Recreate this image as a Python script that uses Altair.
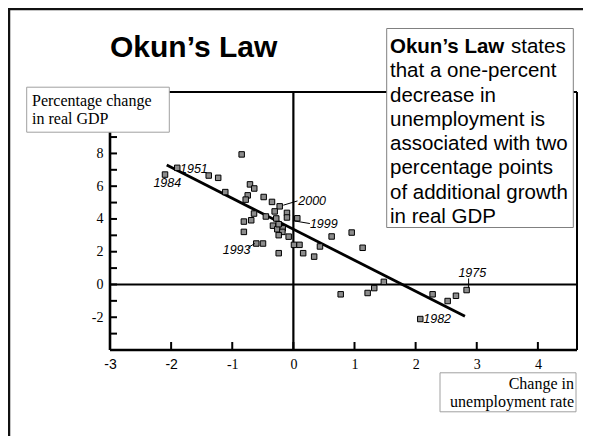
import altair as alt
import pandas as pd

# ---- data ----
unemp_change = [-2.10, -1.90, -1.385, -1.23, -1.114, -0.846, -0.71, -0.64, -0.747, -0.78,
                -0.486, -0.35, -0.224, -0.306, -0.105, -0.105, 0.064, -0.644, -0.81, -0.69,
                -0.45, -0.28, -0.334, -0.263, -0.175, -0.24, -0.18, -0.24, -0.81, -0.077,
                -0.607, -0.497, -0.24, 0.01, 0.10, 0.16, 0.34, 0.435, 0.626, 0.954,
                1.133, 0.774, 1.215, 1.323, 1.48, 2.278, 2.524, 2.66, 2.834, 2.076]
gdp_change = [6.71, 7.12, 6.65, 6.51, 5.64, 7.94, 6.11, 5.86, 5.44, 5.18,
              5.34, 5.04, 4.77, 4.46, 4.37, 4.09, 4.04, 4.33, 3.84, 3.92,
              4.15, 4.03, 3.59, 3.37, 3.43, 3.68, 3.21, 3.01, 3.21, 2.92,
              2.50, 2.50, 1.91, 2.42, 2.42, 1.91, 1.70, 2.32, 2.93, 3.17,
              2.24, -0.60, -0.52, -0.22, 0.16, -0.60, -1.01, -0.69, -0.34, -2.11]

fit_x = [-2.072, 2.807]
fit_y = [7.29, -1.94]

year_labels = ["1951", "1984", "2000", "1999", "1993", "1975", "1982"]
year_label_x = [-1.855, -2.29, 0.08, 0.27, -1.156, 2.70, 2.125]
year_label_y = [6.83, 5.97, 4.84, 3.45, 1.85, 0.47, -2.35]

leader_x1 = [-0.165, 0.015, -0.74, 2.867]
leader_y1 = [4.84, 3.88, 2.26, 0.37]
leader_x2 = [0.067, 0.27, -0.63, 2.867]
leader_y2 = [5.10, 3.72, 2.50, -0.22]

x_label_values = [-3, -2, -1, 0, 1, 2, 3, 4]
x_tick_values = [-2, -1, 0, 1, 2, 3, 4]
y_label_values = [-2, 0, 2, 4, 6, 8]
y_tick_values = list(range(-3, 12))

title_text = "Okun’s Law"
box_bold = "Okun’s Law"
box_first_rest = "states"
box_lines = ["that a one-percent", "decrease in", "unemployment is",
             "associated with two", "percentage points", "of additional growth",
             "in real GDP"]
y_title_lines = ["Percentage change", "in real GDP"]
x_title_lines = ["Change in", "unemployment rate"]

# ---- layout ----
W, H = 467, 258
SANS = "Liberation Sans"
SERIF = "Liberation Serif"

xs = alt.Scale(domain=[-3, 4.64], nice=False, zero=False)
ys = alt.Scale(domain=[-4, 11.75], nice=False, zero=False)

xax = alt.Axis(
    values=x_label_values, title=None, grid=False, domain=False, ticks=False,
    labelExpr="'' + datum.value",
    labelFont={"condition": {"test": "datum.value <= -2", "value": SANS}, "value": SERIF},
    labelFontSize=14, labelPadding=7, labelFlush=False, labelColor="black")
yax = alt.Axis(
    values=y_label_values, title=None, grid=False, domain=False, ticks=False,
    labelExpr="'' + datum.value",
    labelFont=SERIF, labelFontSize=14, labelPadding=7, labelColor="black")


def X(f):
    return alt.X(f, scale=xs, axis=xax)


def Y(f):
    return alt.Y(f, scale=ys, axis=yax)


pts = pd.DataFrame({"u": unemp_change, "g": gdp_change})
one = pd.DataFrame({"a": [0]})
zero = pd.DataFrame({"v": [0]})
xt = pd.DataFrame({"v": x_tick_values})
yt = pd.DataFrame({"v": y_tick_values})
fit = pd.DataFrame({"u": fit_x, "g": fit_y})
yl = pd.DataFrame({"t": year_labels, "x": year_label_x, "y": year_label_y})
ld = pd.DataFrame({"x1": leader_x1, "y1": leader_y1, "x2": leader_x2, "y2": leader_y2})


def rule_px(x, x2, y, y2, width, color="black"):
    return alt.Chart(one).mark_rule(color=color, strokeWidth=width).encode(
        x=alt.value(x), x2=alt.value(x2), y=alt.value(y), y2=alt.value(y2))


# outer slide border (left and top)
border_left = rule_px(-101, -101, -84, H + 86, 2.5, "#111")
border_top = rule_px(-102, W + 6, -83, -83, 2.5, "#111")

# plot frame
frame_top = rule_px(0, W, 0, 0, 2)
frame_right = rule_px(W, W, 0, H, 2)
frame_left = rule_px(0, 0, 0, H, 2.6)
frame_bottom = rule_px(0, W, H, H, 2.6)

zero_v = alt.Chart(zero).mark_rule(color="black", strokeWidth=2.2).encode(
    x=X("v:Q"), y=alt.value(0), y2=alt.value(H))
zero_h = alt.Chart(zero).mark_rule(color="black", strokeWidth=2.2).encode(
    y=Y("v:Q"), x=alt.value(0), x2=alt.value(W))

x_ticks = alt.Chart(xt).mark_rule(color="black", strokeWidth=2).encode(
    x=X("v:Q"), y=alt.value(H - 8), y2=alt.value(H))
y_ticks = alt.Chart(yt).mark_rule(color="black", strokeWidth=2).encode(
    y=Y("v:Q"), x=alt.value(0), x2=alt.value(7))

fit_line = alt.Chart(fit).mark_line(color="black", strokeWidth=2.8).encode(
    x=X("u:Q"), y=Y("g:Q"))

points = alt.Chart(pts).mark_square(
    size=30, fill="#8c8c8c", stroke="black", strokeWidth=1, opacity=1
).encode(x=X("u:Q"), y=Y("g:Q"))

leaders = alt.Chart(ld).mark_rule(color="black", strokeWidth=1).encode(
    x=X("x1:Q"), y=Y("y1:Q"), x2="x2:Q", y2="y2:Q")

year_text = alt.Chart(yl).mark_text(
    align="left", baseline="alphabetic", font=SANS, fontStyle="italic",
    fontSize=12.5, color="black"
).encode(x=X("x:Q"), y=Y("y:Q"), text="t:N")


def box(x, x2, y, y2, stroke):
    return alt.Chart(one).mark_rect(fill="white", stroke=stroke, strokeWidth=1).encode(
        x=alt.value(x), x2=alt.value(x2), y=alt.value(y), y2=alt.value(y2))


def txt(s, x, y, size, font, align="left", weight="normal", lh=None):
    kw = dict(align=align, baseline="alphabetic", font=font, fontSize=size,
              fontWeight=weight, color="black")
    if lh is not None:
        kw["lineBreak"] = "\n"
        kw["lineHeight"] = lh
    return alt.Chart(one).mark_text(**kw).encode(
        x=alt.value(x), y=alt.value(y), text=alt.value(s))


ybox = box(-83.3, 59.3, -4.8, 40.2, "#a0a0a0")
ytitle = txt("\n".join(y_title_lines), -78, 13.5, 16, SERIF, lh=18)
xbox = box(330, 466, 280.8, 319.8, "#a0a0a0")
xtitle = txt("\n".join(x_title_lines), 464, 296.8, 16, SERIF, align="right", lh=18.4)

title = txt(title_text, 0, -35.5, 30, SANS, weight="bold")

tbox = box(276.7, 463.3, -63.5, 135.5, "#808080")
t_bold = txt(box_bold, 280, -39, 20.5, SANS, weight="bold")
t_rest = txt(box_first_rest, 401, -39, 20.5, SANS)
t_lines = txt("\n".join(box_lines), 280, -39 + 24.3, 20.5, SANS, lh=24.3)

chart = alt.layer(
    border_left, border_top,
    frame_top, frame_right, frame_left, frame_bottom,
    zero_v, zero_h, x_ticks, y_ticks,
    fit_line, points, leaders, year_text,
    ybox, ytitle, xbox, xtitle, title,
    tbox, t_bold, t_rest, t_lines,
).properties(
    width=W, height=H,
    autosize=alt.AutoSizeParams(type="none"),
    padding={"left": 102, "top": 84, "right": 6, "bottom": 86},
    background="white",
).configure_view(strokeWidth=0)

chart.save("out.html", embed_options={"renderer": "svg", "actions": False})
